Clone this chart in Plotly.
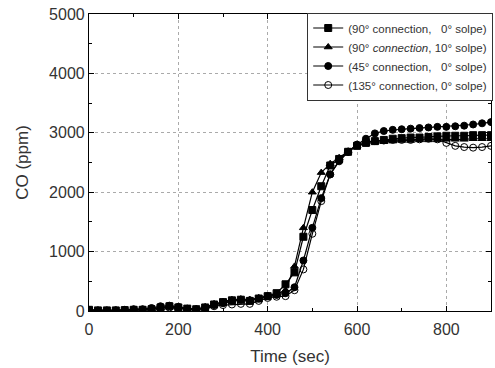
import plotly.graph_objects as go

time_s = list(range(0, 901, 20))

co_90_0 = [20, 10, 10, 10, 15, 20, 20, 30, 60, 80, 60, 40, 30, 60, 110, 150, 180, 190, 170, 210,
           250, 300, 450, 650, 1250, 1700, 2100, 2450, 2560, 2680, 2780, 2830, 2860, 2880, 2900, 2910,
           2920, 2920, 2930, 2940, 2950, 2950, 2950, 2960, 2960, 2960]
co_90_10 = [10, 10, 5, 10, 10, 15, 20, 30, 50, 70, 60, 40, 30, 70, 120, 160, 190, 200, 190, 220,
            260, 280, 350, 750, 1400, 2000, 2330, 2480, 2580, 2690, 2780, 2820, 2840, 2850, 2860, 2870,
            2870, 2880, 2880, 2880, 2890, 2890, 2890, 2900, 2900, 2900]
co_45_0 = [20, 10, 10, 10, 20, 30, 30, 50, 80, 90, 70, 40, 30, 50, 100, 130, 170, 190, 180, 210,
           250, 270, 300, 400, 850, 1400, 1900, 2300, 2530, 2680, 2800, 2900, 2990, 3030, 3050, 3060,
           3070, 3080, 3090, 3100, 3100, 3110, 3120, 3140, 3160, 3180]
co_135_0 = [10, 5, 5, 10, 10, 20, 20, 30, 50, 60, 50, 30, 20, 40, 80, 100, 110, 120, 120, 170,
            220, 240, 250, 350, 700, 1300, 1850, 2300, 2520, 2680, 2800, 2850, 2860, 2870, 2880, 2880,
            2880, 2890, 2900, 2890, 2830, 2780, 2760, 2750, 2760, 2780]

nb = "\u00a0"
names = [
    f"(90° connection,{nb*3}0° solpe)",
    f"(90° <i>connection</i>, 10° solpe)",
    f"(45° connection,{nb*3}0° solpe)",
    f"(135° connection, 0° solpe)",
]
series = [co_90_0, co_90_10, co_45_0, co_135_0]
symbols = ["square", "triangle-up", "circle", "circle-open"]

fig = go.Figure()
for nm, ys, sym in zip(names, series, symbols):
    fig.add_trace(go.Scatter(
        x=time_s, y=ys, name=nm, mode="lines+markers",
        line=dict(color="black", width=1.2),
        marker=dict(symbol=sym, size=7, color="black",
                    line=dict(color="black", width=1)),
    ))

font_family = "Liberation Sans, Arial, sans-serif"
txt = "#333"
fig.update_layout(
    width=495, height=368,
    margin=dict(l=89, r=3, t=14, b=57),
    paper_bgcolor="white", plot_bgcolor="white",
    font=dict(family=font_family, color=txt, size=16),
    showlegend=True,
    legend=dict(
        x=1.003, y=1.005, xanchor="right", yanchor="top",
        bgcolor="white", bordercolor="#333", borderwidth=1,
        font=dict(size=11.5, family=font_family, color=txt),
        tracegroupgap=0, itemwidth=30,
    ),
)
fig.update_xaxes(
    range=[0, 900], tickvals=[0, 200, 400, 600, 800],
    ticks="inside", ticklen=5, tickcolor="black",
    showline=True, linecolor="black", linewidth=1.2, mirror="ticks",
    showgrid=True, gridcolor="#aaa", griddash="dot", gridwidth=1,
    zeroline=False,
    minor=dict(ticks="inside", ticklen=3, tickcolor="black", dtick=100, tick0=0, showgrid=False),
    title=dict(text="Time (sec)", font=dict(size=17), standoff=12),
    tickfont=dict(size=16), ticklabelstandoff=4,
)
fig.update_yaxes(
    range=[0, 5000], tickvals=[0, 1000, 2000, 3000, 4000, 5000],
    ticks="inside", ticklen=5, tickcolor="black",
    showline=True, linecolor="black", linewidth=1.2, mirror="ticks",
    showgrid=True, gridcolor="#aaa", griddash="dot", gridwidth=1,
    zeroline=False,
    minor=dict(ticks="inside", ticklen=3, tickcolor="black", dtick=500, tick0=0, showgrid=False),
    title=dict(text="CO (ppm)", font=dict(size=17), standoff=16),
    tickfont=dict(size=16),
)

fig.write_html("out.html")
